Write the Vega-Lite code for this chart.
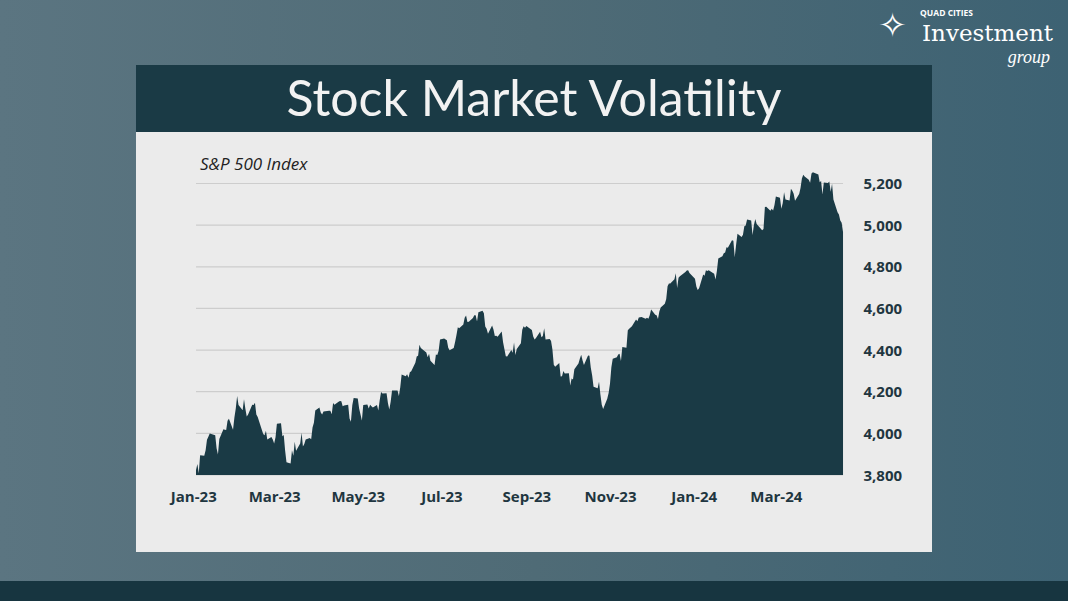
{
  "$schema": "https://vega.github.io/schema/vega-lite/v6.json",
  "width": 1068,
  "height": 601,
  "autosize": "none",
  "padding": 0,
  "background": "#4d6873",
  "config": {"view": {"stroke": null}},
  "data": {"values": [
    {"date":"2023-01-03","close":3824.1},{"date":"2023-01-04","close":3853.0},{"date":"2023-01-05","close":3808.1},{"date":"2023-01-06","close":3895.1},{"date":"2023-01-09","close":3892.1},{"date":"2023-01-10","close":3919.3},{"date":"2023-01-11","close":3969.6},{"date":"2023-01-12","close":3983.2},{"date":"2023-01-13","close":3999.1},{"date":"2023-01-17","close":3991.0},{"date":"2023-01-18","close":3928.9},{"date":"2023-01-19","close":3898.9},{"date":"2023-01-20","close":3972.6},{"date":"2023-01-23","close":4019.8},{"date":"2023-01-24","close":4017.0},{"date":"2023-01-25","close":4016.2},{"date":"2023-01-26","close":4060.4},{"date":"2023-01-27","close":4070.6},{"date":"2023-01-30","close":4017.8},{"date":"2023-01-31","close":4076.6},
    {"date":"2023-02-01","close":4119.2},{"date":"2023-02-02","close":4179.8},{"date":"2023-02-03","close":4136.5},{"date":"2023-02-06","close":4111.1},{"date":"2023-02-07","close":4164.0},{"date":"2023-02-08","close":4117.9},{"date":"2023-02-09","close":4081.5},{"date":"2023-02-10","close":4090.5},{"date":"2023-02-13","close":4137.3},{"date":"2023-02-14","close":4136.1},{"date":"2023-02-15","close":4147.6},{"date":"2023-02-16","close":4090.4},{"date":"2023-02-17","close":4079.1},{"date":"2023-02-21","close":3997.3},{"date":"2023-02-22","close":3991.1},{"date":"2023-02-23","close":4012.3},{"date":"2023-02-24","close":3970.0},{"date":"2023-02-27","close":3982.2},{"date":"2023-02-28","close":3970.2},
    {"date":"2023-03-01","close":3951.4},{"date":"2023-03-02","close":3981.4},{"date":"2023-03-03","close":4045.6},{"date":"2023-03-06","close":4048.4},{"date":"2023-03-07","close":3986.4},{"date":"2023-03-08","close":3992.0},{"date":"2023-03-09","close":3918.3},{"date":"2023-03-10","close":3861.6},{"date":"2023-03-13","close":3855.8},{"date":"2023-03-14","close":3919.3},{"date":"2023-03-15","close":3891.9},{"date":"2023-03-16","close":3960.3},{"date":"2023-03-17","close":3916.6},{"date":"2023-03-20","close":3951.6},{"date":"2023-03-21","close":4002.9},{"date":"2023-03-22","close":3937.0},{"date":"2023-03-23","close":3948.7},{"date":"2023-03-24","close":3971.0},{"date":"2023-03-27","close":3977.5},{"date":"2023-03-28","close":3971.3},{"date":"2023-03-29","close":4027.8},{"date":"2023-03-30","close":4050.8},{"date":"2023-03-31","close":4109.3},
    {"date":"2023-04-03","close":4124.5},{"date":"2023-04-04","close":4100.6},{"date":"2023-04-05","close":4090.4},{"date":"2023-04-06","close":4105.0},{"date":"2023-04-10","close":4109.1},{"date":"2023-04-11","close":4108.9},{"date":"2023-04-12","close":4092.0},{"date":"2023-04-13","close":4146.2},{"date":"2023-04-14","close":4137.6},{"date":"2023-04-17","close":4151.3},{"date":"2023-04-18","close":4154.9},{"date":"2023-04-19","close":4154.5},{"date":"2023-04-20","close":4129.8},{"date":"2023-04-21","close":4133.5},{"date":"2023-04-24","close":4137.0},{"date":"2023-04-25","close":4071.6},{"date":"2023-04-26","close":4056.0},{"date":"2023-04-27","close":4135.4},{"date":"2023-04-28","close":4169.5},
    {"date":"2023-05-01","close":4167.9},{"date":"2023-05-02","close":4119.6},{"date":"2023-05-03","close":4090.8},{"date":"2023-05-04","close":4061.2},{"date":"2023-05-05","close":4136.3},{"date":"2023-05-08","close":4138.1},{"date":"2023-05-09","close":4119.2},{"date":"2023-05-10","close":4137.6},{"date":"2023-05-11","close":4130.6},{"date":"2023-05-12","close":4124.1},{"date":"2023-05-15","close":4136.3},{"date":"2023-05-16","close":4109.9},{"date":"2023-05-17","close":4158.8},{"date":"2023-05-18","close":4198.1},{"date":"2023-05-19","close":4192.0},{"date":"2023-05-22","close":4192.6},{"date":"2023-05-23","close":4145.6},{"date":"2023-05-24","close":4115.2},{"date":"2023-05-25","close":4151.3},{"date":"2023-05-26","close":4205.5},{"date":"2023-05-30","close":4205.5},{"date":"2023-05-31","close":4179.8},
    {"date":"2023-06-01","close":4221.0},{"date":"2023-06-02","close":4282.4},{"date":"2023-06-05","close":4273.8},{"date":"2023-06-06","close":4283.9},{"date":"2023-06-07","close":4267.5},{"date":"2023-06-08","close":4293.9},{"date":"2023-06-09","close":4298.9},{"date":"2023-06-12","close":4338.9},{"date":"2023-06-13","close":4369.0},{"date":"2023-06-14","close":4372.6},{"date":"2023-06-15","close":4425.8},{"date":"2023-06-16","close":4409.6},{"date":"2023-06-20","close":4388.7},{"date":"2023-06-21","close":4365.7},{"date":"2023-06-22","close":4381.9},{"date":"2023-06-23","close":4348.3},{"date":"2023-06-26","close":4328.8},{"date":"2023-06-27","close":4378.4},{"date":"2023-06-28","close":4376.9},{"date":"2023-06-29","close":4396.4},{"date":"2023-06-30","close":4450.4},
    {"date":"2023-07-03","close":4455.6},{"date":"2023-07-05","close":4446.8},{"date":"2023-07-06","close":4411.6},{"date":"2023-07-07","close":4399.0},{"date":"2023-07-10","close":4409.5},{"date":"2023-07-11","close":4439.3},{"date":"2023-07-12","close":4472.2},{"date":"2023-07-13","close":4510.0},{"date":"2023-07-14","close":4505.4},{"date":"2023-07-17","close":4522.8},{"date":"2023-07-18","close":4555.0},{"date":"2023-07-19","close":4565.7},{"date":"2023-07-20","close":4534.9},{"date":"2023-07-21","close":4536.3},{"date":"2023-07-24","close":4554.6},{"date":"2023-07-25","close":4567.5},{"date":"2023-07-26","close":4566.8},{"date":"2023-07-27","close":4537.4},{"date":"2023-07-28","close":4582.2},{"date":"2023-07-31","close":4589.0},
    {"date":"2023-08-01","close":4576.7},{"date":"2023-08-02","close":4513.4},{"date":"2023-08-03","close":4501.9},{"date":"2023-08-04","close":4478.0},{"date":"2023-08-07","close":4518.4},{"date":"2023-08-08","close":4499.4},{"date":"2023-08-09","close":4467.7},{"date":"2023-08-10","close":4468.8},{"date":"2023-08-11","close":4464.1},{"date":"2023-08-14","close":4489.7},{"date":"2023-08-15","close":4437.9},{"date":"2023-08-16","close":4404.3},{"date":"2023-08-17","close":4370.4},{"date":"2023-08-18","close":4369.7},{"date":"2023-08-21","close":4399.8},{"date":"2023-08-22","close":4387.6},{"date":"2023-08-23","close":4436.0},{"date":"2023-08-24","close":4376.3},{"date":"2023-08-25","close":4405.7},{"date":"2023-08-28","close":4433.3},{"date":"2023-08-29","close":4497.6},{"date":"2023-08-30","close":4514.9},{"date":"2023-08-31","close":4507.7},
    {"date":"2023-09-01","close":4515.8},{"date":"2023-09-05","close":4496.8},{"date":"2023-09-06","close":4465.5},{"date":"2023-09-07","close":4451.1},{"date":"2023-09-08","close":4457.5},{"date":"2023-09-11","close":4487.5},{"date":"2023-09-12","close":4461.9},{"date":"2023-09-13","close":4467.4},{"date":"2023-09-14","close":4505.1},{"date":"2023-09-15","close":4450.3},{"date":"2023-09-18","close":4453.5},{"date":"2023-09-19","close":4444.0},{"date":"2023-09-20","close":4402.2},{"date":"2023-09-21","close":4330.0},{"date":"2023-09-22","close":4320.1},{"date":"2023-09-25","close":4337.4},{"date":"2023-09-26","close":4273.5},{"date":"2023-09-27","close":4274.5},{"date":"2023-09-28","close":4299.7},{"date":"2023-09-29","close":4288.1},
    {"date":"2023-10-02","close":4288.4},{"date":"2023-10-03","close":4229.5},{"date":"2023-10-04","close":4263.8},{"date":"2023-10-05","close":4258.2},{"date":"2023-10-06","close":4308.5},{"date":"2023-10-09","close":4335.7},{"date":"2023-10-10","close":4358.2},{"date":"2023-10-11","close":4377.0},{"date":"2023-10-12","close":4349.6},{"date":"2023-10-13","close":4327.8},{"date":"2023-10-16","close":4373.6},{"date":"2023-10-17","close":4373.2},{"date":"2023-10-18","close":4314.6},{"date":"2023-10-19","close":4278.0},{"date":"2023-10-20","close":4224.2},{"date":"2023-10-23","close":4217.0},{"date":"2023-10-24","close":4247.7},{"date":"2023-10-25","close":4186.8},{"date":"2023-10-26","close":4137.2},{"date":"2023-10-27","close":4117.4},{"date":"2023-10-30","close":4166.8},{"date":"2023-10-31","close":4193.8},
    {"date":"2023-11-01","close":4237.9},{"date":"2023-11-02","close":4317.8},{"date":"2023-11-03","close":4358.3},{"date":"2023-11-06","close":4366.0},{"date":"2023-11-07","close":4378.4},{"date":"2023-11-08","close":4382.8},{"date":"2023-11-09","close":4347.4},{"date":"2023-11-10","close":4415.2},{"date":"2023-11-13","close":4411.6},{"date":"2023-11-14","close":4495.7},{"date":"2023-11-15","close":4502.9},{"date":"2023-11-16","close":4508.2},{"date":"2023-11-17","close":4514.0},{"date":"2023-11-20","close":4547.4},{"date":"2023-11-21","close":4538.2},{"date":"2023-11-22","close":4556.6},{"date":"2023-11-24","close":4559.3},{"date":"2023-11-27","close":4550.4},{"date":"2023-11-28","close":4554.9},{"date":"2023-11-29","close":4550.6},{"date":"2023-11-30","close":4567.8},
    {"date":"2023-12-01","close":4594.6},{"date":"2023-12-04","close":4569.8},{"date":"2023-12-05","close":4567.2},{"date":"2023-12-06","close":4549.3},{"date":"2023-12-07","close":4585.6},{"date":"2023-12-08","close":4604.4},{"date":"2023-12-11","close":4622.4},{"date":"2023-12-12","close":4643.7},{"date":"2023-12-13","close":4707.1},{"date":"2023-12-14","close":4719.6},{"date":"2023-12-15","close":4719.2},{"date":"2023-12-18","close":4740.6},{"date":"2023-12-19","close":4768.4},{"date":"2023-12-20","close":4698.4},{"date":"2023-12-21","close":4746.8},{"date":"2023-12-22","close":4754.6},{"date":"2023-12-26","close":4774.8},{"date":"2023-12-27","close":4781.6},{"date":"2023-12-28","close":4783.4},{"date":"2023-12-29","close":4769.8},
    {"date":"2024-01-02","close":4742.8},{"date":"2024-01-03","close":4704.8},{"date":"2024-01-04","close":4688.7},{"date":"2024-01-05","close":4697.2},{"date":"2024-01-08","close":4763.5},{"date":"2024-01-09","close":4756.5},{"date":"2024-01-10","close":4783.5},{"date":"2024-01-11","close":4780.2},{"date":"2024-01-12","close":4783.8},{"date":"2024-01-16","close":4766.0},{"date":"2024-01-17","close":4739.2},{"date":"2024-01-18","close":4780.9},{"date":"2024-01-19","close":4839.8},{"date":"2024-01-22","close":4850.4},{"date":"2024-01-23","close":4864.6},{"date":"2024-01-24","close":4868.6},{"date":"2024-01-25","close":4894.2},{"date":"2024-01-26","close":4891.0},{"date":"2024-01-29","close":4927.9},{"date":"2024-01-30","close":4925.0},{"date":"2024-01-31","close":4845.7},
    {"date":"2024-02-01","close":4906.2},{"date":"2024-02-02","close":4958.6},{"date":"2024-02-05","close":4942.8},{"date":"2024-02-06","close":4954.2},{"date":"2024-02-07","close":4995.1},{"date":"2024-02-08","close":4997.9},{"date":"2024-02-09","close":5026.6},{"date":"2024-02-12","close":5021.8},{"date":"2024-02-13","close":4953.2},{"date":"2024-02-14","close":5000.6},{"date":"2024-02-15","close":5029.7},{"date":"2024-02-16","close":5005.6},{"date":"2024-02-20","close":4975.5},{"date":"2024-02-21","close":4981.8},{"date":"2024-02-22","close":5087.0},{"date":"2024-02-23","close":5088.8},{"date":"2024-02-26","close":5069.5},{"date":"2024-02-27","close":5078.2},{"date":"2024-02-28","close":5069.8},{"date":"2024-02-29","close":5096.3},
    {"date":"2024-03-01","close":5137.1},{"date":"2024-03-04","close":5131.0},{"date":"2024-03-05","close":5078.7},{"date":"2024-03-06","close":5104.8},{"date":"2024-03-07","close":5157.4},{"date":"2024-03-08","close":5123.7},{"date":"2024-03-11","close":5117.9},{"date":"2024-03-12","close":5175.3},{"date":"2024-03-13","close":5165.3},{"date":"2024-03-14","close":5150.5},{"date":"2024-03-15","close":5117.1},{"date":"2024-03-18","close":5149.4},{"date":"2024-03-19","close":5178.5},{"date":"2024-03-20","close":5224.6},{"date":"2024-03-21","close":5241.5},{"date":"2024-03-22","close":5234.2},{"date":"2024-03-25","close":5218.2},{"date":"2024-03-26","close":5203.6},{"date":"2024-03-27","close":5248.5},{"date":"2024-03-28","close":5254.4},
    {"date":"2024-04-01","close":5243.8},{"date":"2024-04-02","close":5205.8},{"date":"2024-04-03","close":5211.5},{"date":"2024-04-04","close":5147.2},{"date":"2024-04-05","close":5204.3},{"date":"2024-04-08","close":5202.4},{"date":"2024-04-09","close":5209.9},{"date":"2024-04-10","close":5160.6},{"date":"2024-04-11","close":5199.1},{"date":"2024-04-12","close":5123.4},{"date":"2024-04-15","close":5061.8},{"date":"2024-04-16","close":5051.4},{"date":"2024-04-17","close":5022.2},{"date":"2024-04-18","close":5011.1},{"date":"2024-04-19","close":4967.2}
  ]},
  "layer": [
    {
      "data": {"values": [{}]},
      "mark": {"type": "rect", "fill": {"gradient": "linear", "x1": 0, "y1": 0, "x2": 1, "y2": 0, "stops": [{"offset": 0, "color": "#5b7581"}, {"offset": 0.5, "color": "#4f6b76"}, {"offset": 1, "color": "#3d6273"}]}},
      "encoding": {}
    },
    {
      "data": {"values": [{}]},
      "mark": {"type": "rect", "fill": "#ebebeb"},
      "encoding": {
        "x": {"datum": {"year": 2022, "month": 11, "date": 20, "hours": 5, "utc": true}, "type": "temporal", "scale": {"type": "utc", "domain": [{"year": 2022, "month": 8, "date": 13, "utc": true}, {"year": 2024, "month": 9, "date": 30, "hours": 3, "utc": true}]}},
        "x2": {"datum": {"year": 2024, "month": 6, "date": 22, "hours": 22, "utc": true}},
        "y": {"datum": 5769.1, "type": "quantitative", "scale": {"domain": [3194.9, 6081.3], "nice": false, "zero": false}},
        "y2": {"datum": 3430.2}
      }
    },
    {
      "data": {"values": [{}]},
      "mark": {"type": "rect", "fill": "#1a3a45"},
      "encoding": {
        "x": {"datum": {"year": 2022, "month": 11, "date": 20, "hours": 5, "utc": true}, "type": "temporal", "scale": {"type": "utc", "domain": [{"year": 2022, "month": 8, "date": 13, "utc": true}, {"year": 2024, "month": 9, "date": 30, "hours": 3, "utc": true}]}},
        "x2": {"datum": {"year": 2024, "month": 6, "date": 22, "hours": 22, "utc": true}},
        "y": {"datum": 5769.1, "type": "quantitative", "scale": {"domain": [3194.9, 6081.3], "nice": false, "zero": false}},
        "y2": {"datum": 5447.3}
      }
    },
    {
      "data": {"values": [{}]},
      "mark": {"type": "rect", "fill": "#173540"},
      "encoding": {
        "y": {"datum": 3290.9, "type": "quantitative", "scale": {"domain": [3194.9, 6081.3], "nice": false, "zero": false}},
        "y2": {"datum": 3150}
      }
    },
    {
      "data": {"values": [{"level": 3800}, {"level": 4000}, {"level": 4200}, {"level": 4400}, {"level": 4600}, {"level": 4800}, {"level": 5000}, {"level": 5200}]},
      "mark": {"type": "rule", "color": "#cdcdcd", "strokeWidth": 1.2},
      "encoding": {
        "x": {"datum": {"year": 2023, "month": 1, "date": 3, "utc": true}, "type": "temporal", "scale": {"type": "utc", "domain": [{"year": 2022, "month": 8, "date": 13, "utc": true}, {"year": 2024, "month": 9, "date": 30, "hours": 3, "utc": true}]}},
        "x2": {"datum": {"year": 2024, "month": 4, "date": 19, "utc": true}},
        "y": {"field": "level", "type": "quantitative", "scale": {"domain": [3194.9, 6081.3], "nice": false, "zero": false}}
      }
    },
    {
      "mark": {"type": "area", "color": "#1a3a45", "interpolate": "linear"},
      "encoding": {
        "x": {
          "field": "date", "type": "temporal",
          "scale": {"type": "utc", "domain": [{"year": 2022, "month": 8, "date": 13, "utc": true}, {"year": 2024, "month": 9, "date": 30, "hours": 3, "utc": true}]},
          "axis": {
            "orient": "bottom", "offset": -126, "title": null, "grid": false, "ticks": false, "domain": false,
            "values": [
              {"year": 2023, "month": 1, "date": 1, "utc": true}, {"year": 2023, "month": 3, "date": 1, "utc": true},
              {"year": 2023, "month": 5, "date": 1, "utc": true}, {"year": 2023, "month": 7, "date": 1, "utc": true},
              {"year": 2023, "month": 9, "date": 1, "utc": true}, {"year": 2023, "month": 11, "date": 1, "utc": true},
              {"year": 2024, "month": 1, "date": 1, "utc": true}, {"year": 2024, "month": 3, "date": 1, "utc": true}
            ],
            "format": "%b-%y", "labelPadding": 14, "labelFont": "Open Sans", "labelFontWeight": "bold",
            "labelFontSize": 15, "labelColor": "#1f3640", "labelOverlap": false, "zindex": 1
          }
        },
        "y": {
          "field": "close", "type": "quantitative",
          "scale": {"domain": [3194.9, 6081.3], "nice": false, "zero": false},
          "axis": {
            "orient": "right", "offset": -205, "title": null, "grid": false, "ticks": false, "domain": false,
            "values": [3800, 4000, 4200, 4400, 4600, 4800, 5000, 5200], "format": ",.0f",
            "labelPadding": 0, "labelFont": "Open Sans", "labelFontWeight": "bold", "labelFontSize": 15,
            "labelColor": "#1f3640", "labelOverlap": false, "zindex": 1
          }
        },
        "y2": {"datum": 3800}
      }
    },
    {
      "data": {"values": [{}]},
      "mark": {"type": "text", "text": "Stock Market Volatility", "font": "Lato", "fontSize": 50, "color": "#f2f2f2", "align": "center", "baseline": "alphabetic"},
      "encoding": {
        "x": {"datum": {"year": 2023, "month": 9, "date": 6, "hours": 13, "minutes": 30, "utc": true}, "type": "temporal", "scale": {"type": "utc", "domain": [{"year": 2022, "month": 8, "date": 13, "utc": true}, {"year": 2024, "month": 9, "date": 30, "hours": 3, "utc": true}]}},
        "y": {"datum": 5524.2, "type": "quantitative", "scale": {"domain": [3194.9, 6081.3], "nice": false, "zero": false}}
      }
    },
    {
      "data": {"values": [{}]},
      "mark": {"type": "text", "text": "S&P 500 Index", "font": "Open Sans", "fontSize": 17, "fontStyle": "italic", "color": "#222222", "align": "left", "baseline": "alphabetic"},
      "encoding": {
        "x": {"datum": {"year": 2023, "month": 1, "date": 5, "hours": 22, "utc": true}, "type": "temporal", "scale": {"type": "utc", "domain": [{"year": 2022, "month": 8, "date": 13, "utc": true}, {"year": 2024, "month": 9, "date": 30, "hours": 3, "utc": true}]}},
        "y": {"datum": 5267.2, "type": "quantitative", "scale": {"domain": [3194.9, 6081.3], "nice": false, "zero": false}}
      }
    },
    {
      "data": {"values": [{}]},
      "mark": {"type": "text", "text": "✧", "font": "DejaVu Sans", "fontSize": 34, "color": "#ffffff", "align": "center", "baseline": "middle"},
      "encoding": {
        "x": {"datum": {"year": 2024, "month": 5, "date": 25, "hours": 2, "utc": true}, "type": "temporal", "scale": {"type": "utc", "domain": [{"year": 2022, "month": 8, "date": 13, "utc": true}, {"year": 2024, "month": 9, "date": 30, "hours": 3, "utc": true}]}},
        "y": {"datum": 5951.6, "type": "quantitative", "scale": {"domain": [3194.9, 6081.3], "nice": false, "zero": false}}
      }
    },
    {
      "data": {"values": [{}]},
      "mark": {"type": "text", "text": "QUAD CITIES", "font": "Open Sans", "fontSize": 8.5, "fontWeight": "bold", "color": "#ffffff", "align": "left", "baseline": "alphabetic"},
      "encoding": {
        "x": {"datum": {"year": 2024, "month": 6, "date": 14, "hours": 5, "utc": true}, "type": "temporal", "scale": {"type": "utc", "domain": [{"year": 2022, "month": 8, "date": 13, "utc": true}, {"year": 2024, "month": 9, "date": 30, "hours": 3, "utc": true}]}},
        "y": {"datum": 6002.1, "type": "quantitative", "scale": {"domain": [3194.9, 6081.3], "nice": false, "zero": false}}
      }
    },
    {
      "data": {"values": [{}]},
      "mark": {"type": "text", "text": "Investment", "font": "DejaVu Serif", "fontSize": 23, "color": "#ffffff", "align": "right", "baseline": "alphabetic"},
      "encoding": {
        "x": {"datum": {"year": 2024, "month": 9, "date": 19, "hours": 5, "utc": true}, "type": "temporal", "scale": {"type": "utc", "domain": [{"year": 2022, "month": 8, "date": 13, "utc": true}, {"year": 2024, "month": 9, "date": 30, "hours": 3, "utc": true}]}},
        "y": {"datum": 5884.4, "type": "quantitative", "scale": {"domain": [3194.9, 6081.3], "nice": false, "zero": false}}
      }
    },
    {
      "data": {"values": [{}]},
      "mark": {"type": "text", "text": "group", "font": "Liberation Serif", "fontSize": 18, "fontStyle": "italic", "color": "#ffffff", "align": "right", "baseline": "alphabetic"},
      "encoding": {
        "x": {"datum": {"year": 2024, "month": 9, "date": 17, "utc": true}, "type": "temporal", "scale": {"type": "utc", "domain": [{"year": 2022, "month": 8, "date": 13, "utc": true}, {"year": 2024, "month": 9, "date": 30, "hours": 3, "utc": true}]}},
        "y": {"datum": 5778.7, "type": "quantitative", "scale": {"domain": [3194.9, 6081.3], "nice": false, "zero": false}}
      }
    }
  ]
}
